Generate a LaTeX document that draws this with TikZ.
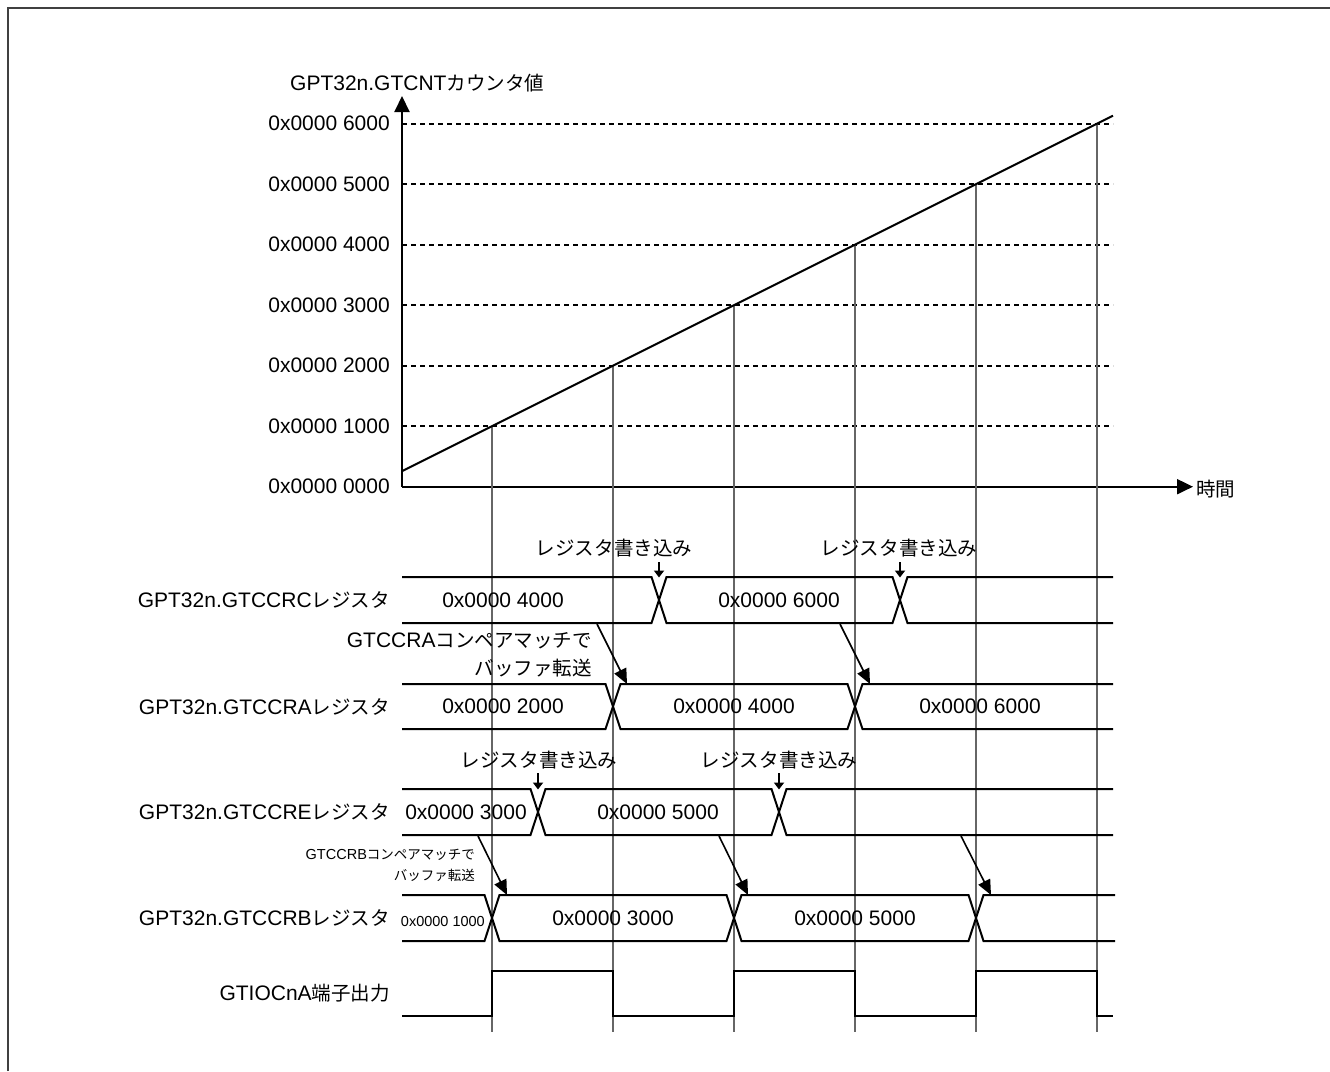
\documentclass[tikz,border=0pt]{standalone}
\usepackage{fontspec}
\setmainfont{Liberation Sans}
\newfontfamily\jpf[Scale=0.93]{Noto Sans CJK JP}
\newcommand{\jt}[1]{{\jpf #1}}
\usetikzlibrary{arrows.meta}
\begin{document}
\begin{tikzpicture}[x=1pt,y=-1pt,
  lbl/.style={font=\fontsize{21}{25}\selectfont, inner sep=0pt},
  sml/.style={font=\fontsize{14.5}{17}\selectfont, inner sep=0pt},
  sig/.style={line width=2pt, black, line join=miter},
  gridv/.style={line width=1.2pt, black!60},
  dline/.style={line width=2pt, dash pattern=on 5pt off 4pt},
  axis/.style={line width=2pt, -{Triangle[length=16pt,width=15pt]}},
  xfer/.style={line width=1.6pt, -{Triangle[length=15pt,width=13pt]}},
  wr/.style={line width=2pt, -{Triangle[length=7pt,width=10pt]}},
]
\useasboundingbox (0,0) rectangle (1330,1071);
% frame
\draw[line width=2pt, black!75] (7.5,1071) -- (7.5,7.5) -- (1330,7.5);

% axes
\coordinate (O) at (402,486.7);
\coordinate (Ytip) at (402,96);
\coordinate (Xtip) at (1193,486.7);
\draw[axis] (O) -- (Ytip);
\draw[axis] (O) -- (Xtip);
\node[lbl, anchor=west] (ylab) at (290,83) {GPT32n.GTCNT\jt{カウンタ値}};
\node[lbl, anchor=west] (xlab) at (1196,489) {\jt{時間}};

% value labels, dashed levels and vertical guides
\node[lbl, anchor=east] (v0) at (390,486.7) {0x0000 0000};
\foreach \k in {1,...,6}{
  \pgfmathsetmacro{\yy}{486.7-60.5*\k}
  \pgfmathsetmacro{\xx}{492+121*(\k-1)}
  \node[lbl, anchor=east] (v\k) at (390,\yy) {0x0000 \k000};
  \draw[dline] (402,\yy) -- (1113,\yy);
  \draw[gridv] (\xx,\yy) -- (\xx,1032);
}
% counter ramp
\coordinate (r0) at (402,471.2);
\coordinate (r1) at (1113,115.7);
\draw[line width=2pt] (r0) -- (r1);

% row labels
\node[lbl, anchor=east] (lc) at (390,600) {GPT32n.GTCCRC\jt{レジスタ}};
\node[lbl, anchor=east] (la) at (390,706.5) {GPT32n.GTCCRA\jt{レジスタ}};
\node[lbl, anchor=east] (le) at (390,812) {GPT32n.GTCCRE\jt{レジスタ}};
\node[lbl, anchor=east] (lb) at (390,918) {GPT32n.GTCCRB\jt{レジスタ}};
\node[lbl, anchor=east] (lo) at (390,993.5) {GTIOCnA\jt{端子出力}};

% Row C
\draw[sig] (402,577) -- (651.5,577) -- (666.5,623) -- (892.5,623) -- (907.5,577) -- (1113,577);
\draw[sig] (402,623) -- (651.5,623) -- (666.5,577) -- (892.5,577) -- (907.5,623) -- (1113,623);
\node[lbl] (c1) at (503,600) {0x0000 4000};
\node[lbl] (c2) at (779,600) {0x0000 6000};

% Row A
\draw[sig] (402,684) -- (605.5,684) -- (620.5,729) -- (847.5,729) -- (862.5,684) -- (1113,684);
\draw[sig] (402,729) -- (605.5,729) -- (620.5,684) -- (847.5,684) -- (862.5,729) -- (1113,729);
\node[lbl] (a1) at (503,706.5) {0x0000 2000};
\node[lbl] (a2) at (734,706.5) {0x0000 4000};
\node[lbl] (a3) at (980,706.5) {0x0000 6000};

% Row E
\draw[sig] (402,789) -- (530.5,789) -- (545.5,835) -- (771.5,835) -- (786.5,789) -- (1113,789);
\draw[sig] (402,835) -- (530.5,835) -- (545.5,789) -- (771.5,789) -- (786.5,835) -- (1113,835);
\node[lbl] (e1) at (466,812) {0x0000 3000};
\node[lbl] (e2) at (658,812) {0x0000 5000};

% Row B
\draw[sig] (402,895) -- (484.5,895) -- (499.5,941) -- (726.5,941) -- (741.5,895) -- (968.5,895) -- (983.5,941) -- (1115,941);
\draw[sig] (402,941) -- (484.5,941) -- (499.5,895) -- (726.5,895) -- (741.5,941) -- (968.5,941) -- (983.5,895) -- (1115,895);
\node[sml, anchor=east] (b0) at (485,921) {0x0000 1000};
\node[lbl] (b1) at (613,918) {0x0000 3000};
\node[lbl] (b2) at (855,918) {0x0000 5000};

% output
\draw[sig] (402,1016) -- (492,1016) -- (492,971) -- (613,971) -- (613,1016) -- (734,1016) -- (734,971) -- (855,971) -- (855,1016) -- (976,1016) -- (976,971) -- (1097,971) -- (1097,1016) -- (1113,1016);

% register write annotations
\node[lbl] (w1) at (614,548) {\jt{レジスタ書き込み}};
\node[lbl] (w2) at (899,548) {\jt{レジスタ書き込み}};
\node[lbl] (w3) at (539,760) {\jt{レジスタ書き込み}};
\node[lbl] (w4) at (779,760) {\jt{レジスタ書き込み}};
\coordinate (w1s) at (659,562); \coordinate (w1e) at (659,577.5);
\coordinate (w2s) at (900,562); \coordinate (w2e) at (900,577.5);
\coordinate (w3s) at (538,773); \coordinate (w3e) at (538,789.5);
\coordinate (w4s) at (779,773); \coordinate (w4e) at (779,789.5);
\draw[wr] (w1s) -- (w1e);
\draw[wr] (w2s) -- (w2e);
\draw[wr] (w3s) -- (w3e);
\draw[wr] (w4s) -- (w4e);

% buffer transfer annotations
\node[lbl, anchor=east] (ta1) at (592,641) {GTCCRA\jt{コンペアマッチで}};
\node[lbl, anchor=east] (ta2) at (592,668) {\jt{バッファ転送}};
\node[sml, anchor=east] (tb1) at (475,855) {GTCCRB\jt{コンペアマッチで}};
\node[sml, anchor=east] (tb2) at (475,875) {\jt{バッファ転送}};
\coordinate (x1s) at (597,624); \coordinate (x1e) at (627,684);
\coordinate (x2s) at (840,624); \coordinate (x2e) at (870,684);
\coordinate (x3s) at (478,836); \coordinate (x3e) at (507,895);
\coordinate (x4s) at (719,836); \coordinate (x4e) at (748,895);
\coordinate (x5s) at (961,836); \coordinate (x5e) at (991,895);
\draw[xfer] (x1s) -- (x1e);
\draw[xfer] (x2s) -- (x2e);
\draw[xfer] (x3s) -- (x3e);
\draw[xfer] (x4s) -- (x4e);
\draw[xfer] (x5s) -- (x5e);
\end{tikzpicture}
\end{document}
